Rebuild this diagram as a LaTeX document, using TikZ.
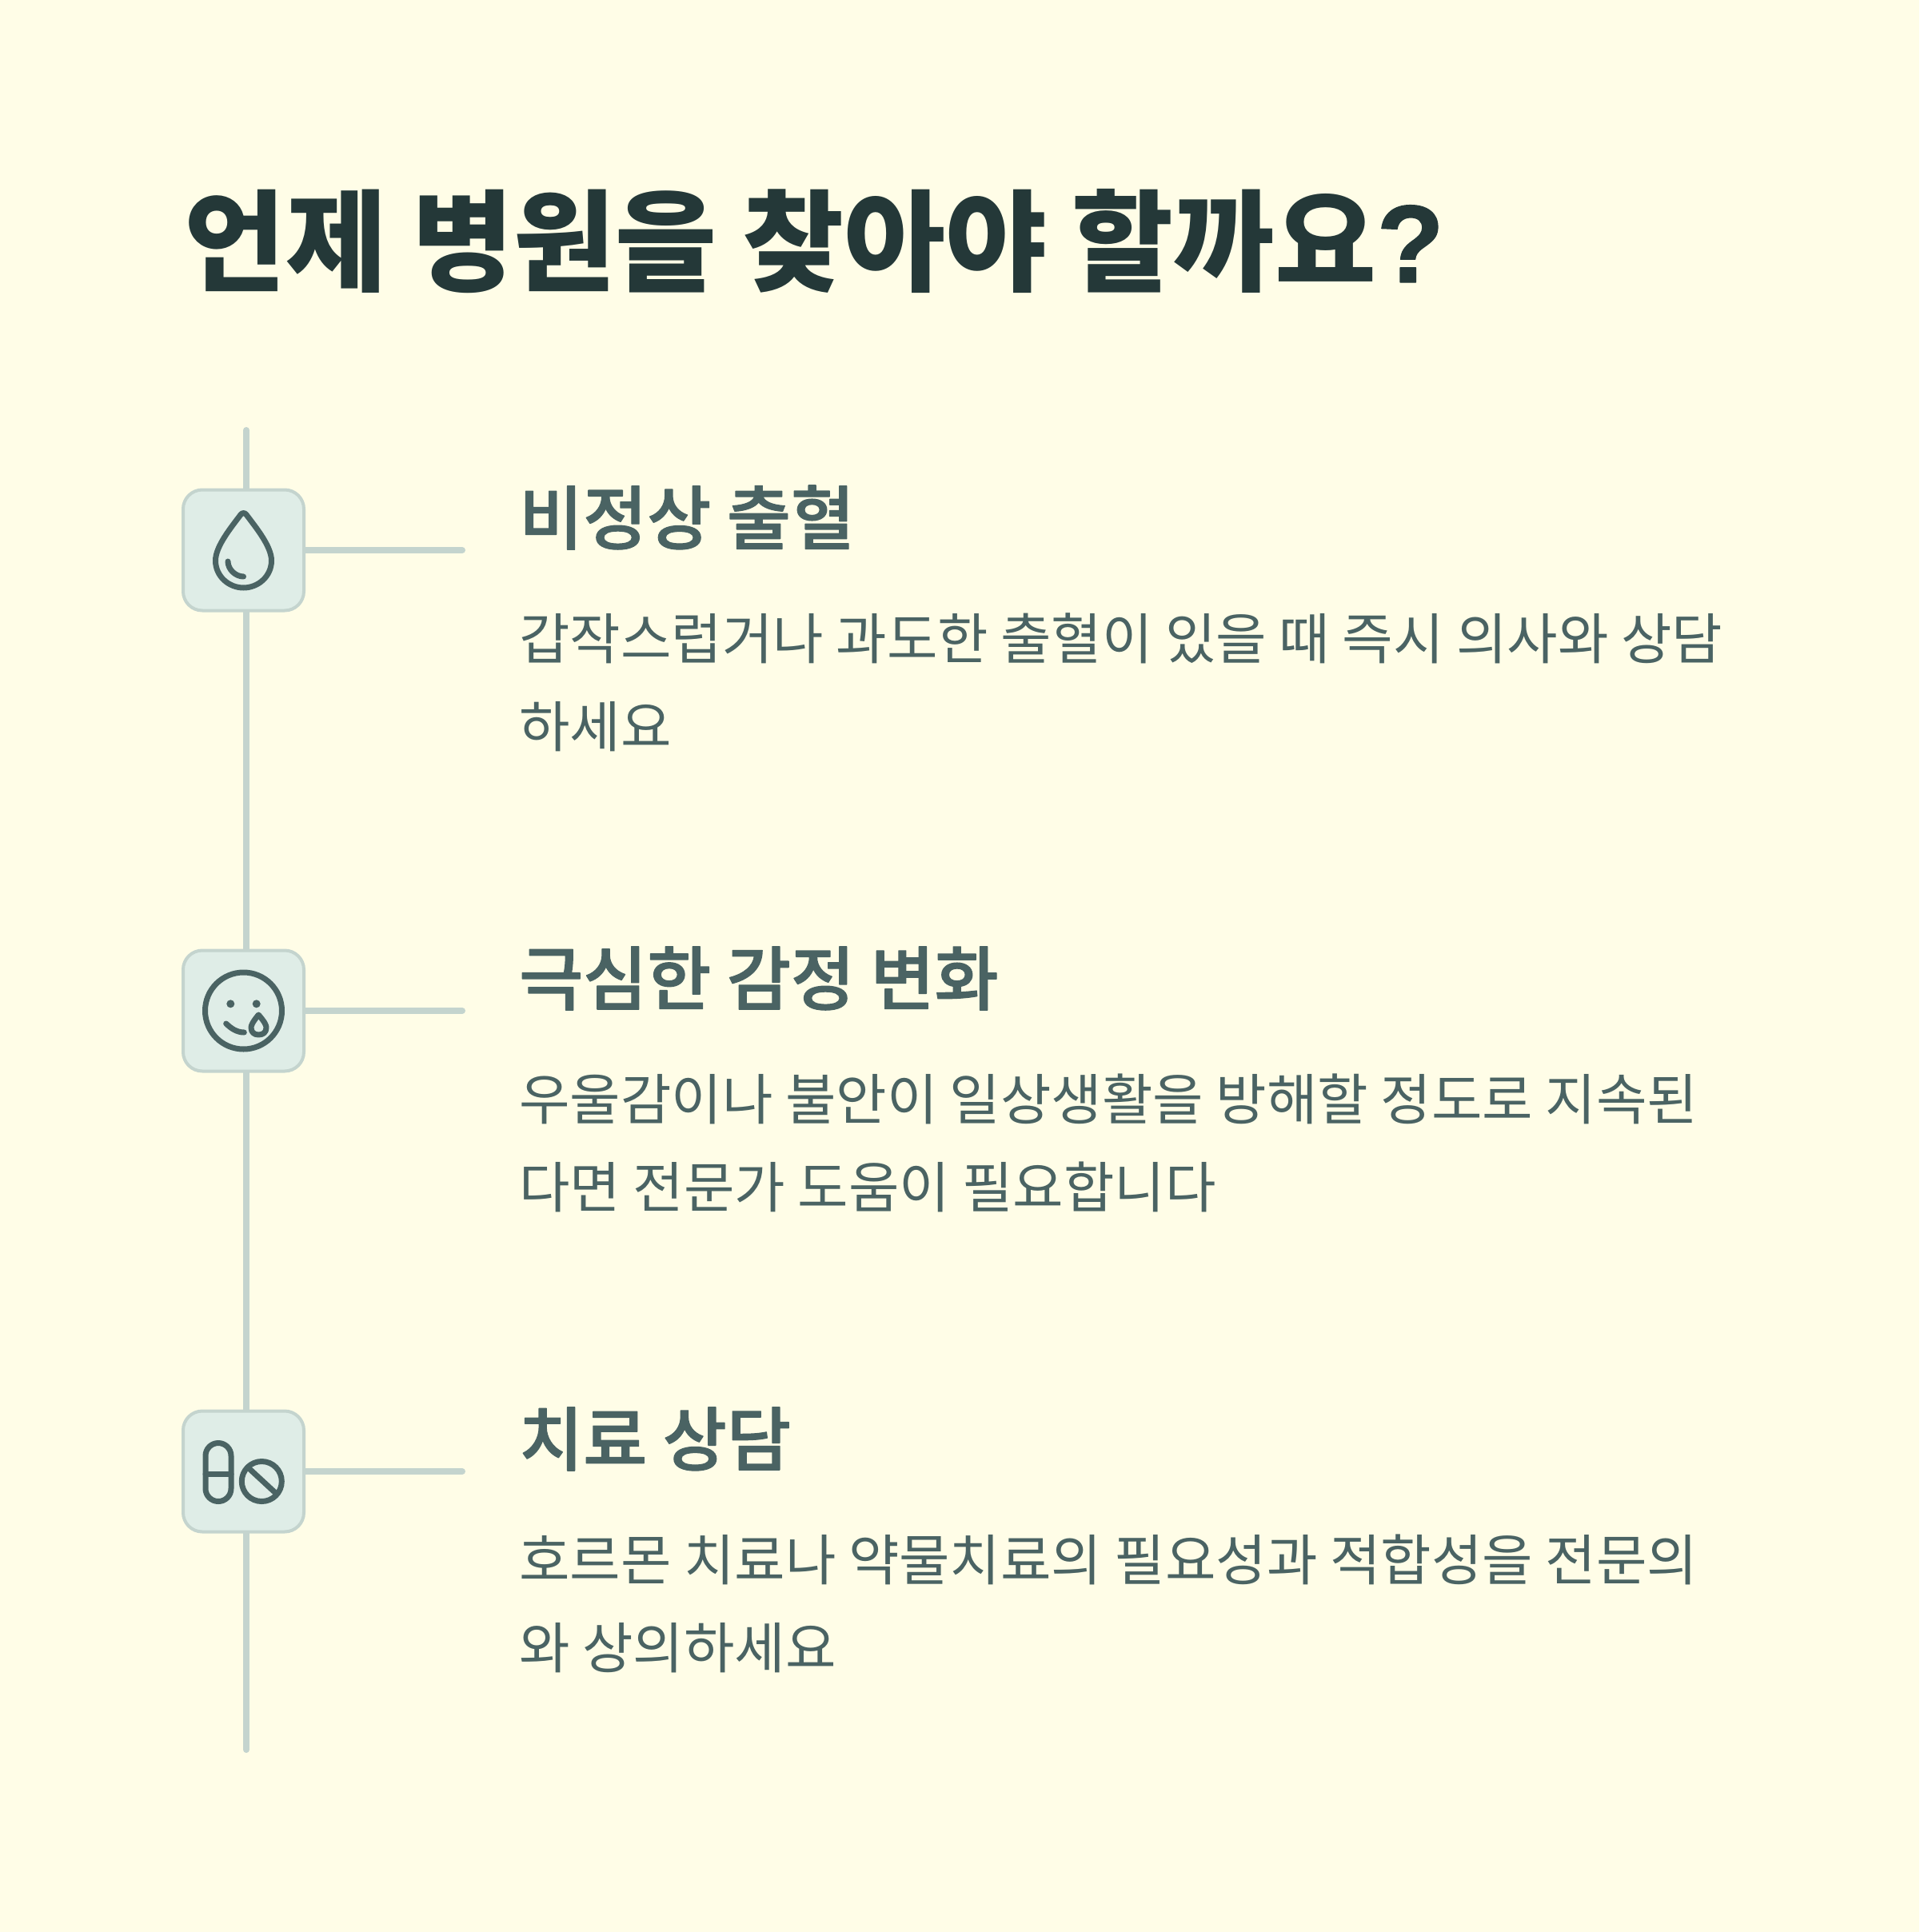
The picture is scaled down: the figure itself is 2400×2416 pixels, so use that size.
\documentclass[tikz,border=0pt]{standalone}
\usepackage{fontspec}
\usepackage{xcolor}
\usetikzlibrary{calc}
\usetikzlibrary{positioning}
\setmainfont{Noto Sans CJK KR}
\newfontfamily\headfont[FakeBold=1.4]{Noto Sans CJK KR Medium}
\newfontfamily\markfont[FakeBold=1]{Liberation Sans}
\definecolor{paper}{HTML}{FFFDE7}
\definecolor{titleink}{HTML}{243838}
\definecolor{bodyink}{HTML}{4A6363}
\definecolor{railgray}{HTML}{C4D4CE}
\definecolor{boxfill}{HTML}{DFEDE7}
\begin{document}
\begin{tikzpicture}[
		x=1pt,
		y=-1pt,
		line cap=round,
		line join=round,
	]
		\tikzset{rail/.style={
			draw=railgray,
			line width=8,
		}}
		\tikzset{iconbox/.style={
			draw=railgray,
			fill=boxfill,
			line width=4,
			rectangle,
			rounded corners=24,
			minimum width=151,
			minimum height=151,
			inner sep=0,
		}}
		\tikzset{glyph/.style={
			draw=bodyink,
			line width=7,
		}}
		\tikzset{heading/.style={
			anchor=base west,
			inner sep=0,
			text=bodyink,
			font=\fontsize{87}{87}\selectfont\headfont,
		}}
		\tikzset{bodytext/.style={
			anchor=base west,
			inner sep=0,
			text=bodyink,
			align=left,
			font=\fontsize{69}{110}\selectfont,
		}}

		\fill[paper] (0,0) rectangle (2400,2416);

		%---------------------------------
		% Title
		\node[
			anchor=base west,
			inner sep=0,
			text=titleink,
			font=\fontsize{138}{138}\selectfont\bfseries,
		] (title) at (230,353) {언제 병원을 찾아야 할까요{\markfont ?}};

		%---------------------------------
		% Rail
		\coordinate (railtop) at (308,538);
		\coordinate (railend) at (308,2188);
		\draw[rail] (railtop) -- (railend);

		%---------------------------------
		% Bleeding
		\node[iconbox] (box1) at (304.5,688) {};
		\coordinate (tick1) at (578,688);
		\draw[rail] (box1.east) -- (tick1);
		\draw[glyph,shift={(box1.center)}] (-3.5,-44.5)
			.. controls (-15,-29) and (-35,-5) .. (-35,13)
			.. controls (-35,33) and (-18,47) .. (0,47)
			.. controls (18,47) and (35,33) .. (35,13)
			.. controls (35,-5) and (15,-29) .. (3.5,-44.5)
			.. controls (1.5,-47) and (-1.5,-47) .. cycle;
		\draw[glyph,shift={(box1.center)}] (-19.5,14)
			.. controls (-19.5,24) and (-10,33) .. (0,33);

		\node[heading] (head1) at (649,680) {비정상 출혈};
		\node[bodytext] (text1) at (649,934) {갑작스럽거나 과도한 출혈이 있을 때 즉시 의사와 상담\\하세요};

		%---------------------------------
		% Mood
		\node[iconbox] (box2) at (304.5,1264) {};
		\coordinate (tick2) at (578,1264);
		\draw[rail] (box2.east) -- (tick2);
		\draw[glyph] (box2.center) circle (48);
		\fill[bodyink] (288.3,1255.3) circle (5);
		\fill[bodyink] (320.7,1255.3) circle (5);
		\draw[glyph] (282.7,1280) .. controls (289,1286) and (296,1291) .. (305.3,1291);
		\draw[glyph] (323.3,1269)
			.. controls (316,1278) and (314,1282) .. (314,1285)
			.. controls (314,1291) and (318,1294) .. (323.3,1294)
			.. controls (329,1294) and (333,1291) .. (333,1285)
			.. controls (333,1282) and (331,1278) .. cycle;

		\node[heading] (head2) at (649,1256) {극심한 감정 변화};
		\node[bodytext] (text2) at (649,1510) {우울감이나 불안이 일상생활을 방해할 정도로 지속된\\다면 전문가 도움이 필요합니다};

		%---------------------------------
		% Treatment
		\node[iconbox] (box3) at (304.5,1840) {};
		\coordinate (tick3) at (578,1840);
		\draw[rail] (box3.east) -- (tick3);
		\draw[glyph,rounded corners=16] (257,1804.5) rectangle (289,1877.5);
		\draw[glyph] (257,1843) -- (289,1843);
		\draw[glyph] (327.3,1852.5) circle (25);
		\draw[glyph] (310,1835) -- (345.7,1868);

		\node[heading] (head3) at (649,1832) {치료 상담};
		\node[bodytext] (text3) at (649,2086) {호르몬 치료나 약물치료의 필요성과 적합성을 전문의\\와 상의하세요};
	\end{tikzpicture}
\end{document}
